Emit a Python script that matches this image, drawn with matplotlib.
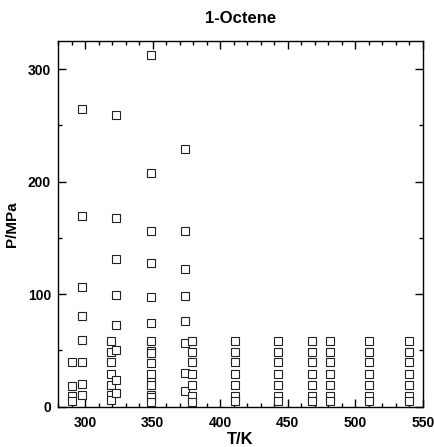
import matplotlib
matplotlib.use("Agg")
import matplotlib.pyplot as plt
from matplotlib.ticker import MultipleLocator

plt.rcParams['font.family'] = ['Liberation Sans', 'DejaVu Sans']

# Temperatures (K) and pressures (MPa) per isotherm
T_290 = [39.8, 18.5, 9.6, 5.2]
T_298 = [264.4, 169.3, 106.0, 80.4, 59.1, 39.8, 19.7, 10.2]
T_319 = [58.2, 48.7, 39.3, 28.6, 18.8, 10.0, 5.8]
T_323 = [259.1, 167.6, 131.0, 99.1, 72.4, 50.0, 23.6, 11.7]
T_349 = [312.4, 207.8, 156.3, 127.3, 97.6, 74.0, 58.2, 49.3, 47.3, 38.9, 28.6, 22.0, 19.1, 10.2, 8.2, 3.7]
T_374 = [228.9, 156.3, 122.0, 98.5, 76.3, 56.2, 29.5, 13.8]
T_379 = [58.2, 48.7, 39.3, 28.6, 18.8, 9.3, 4.3]
T_high = [58.2, 48.7, 39.3, 29.2, 19.5, 9.5, 4.5]

temps = [290, 298, 319, 323, 349, 374, 379, 411, 443, 468, 481, 510, 540]
pressures = [T_290, T_298, T_319, T_323, T_349, T_374, T_379,
             T_high, T_high, T_high, T_high, T_high, T_high]

fig = plt.figure(figsize=(4.35, 4.47), dpi=100)
ax = fig.add_axes([58/435, 1-406.5/447, (423-58)/435, (406.5-41)/447])

xs, ys = [], []
for t, ps in zip(temps, pressures):
    for p in ps:
        xs.append(t)
        ys.append(p)
ax.plot(xs, ys, linestyle='none', marker='s', markersize=5.5,
        markerfacecolor='white', markeredgecolor='#222222', markeredgewidth=0.8)

ax.set_xlim(280, 550)
ax.set_ylim(0, 325)
ax.xaxis.set_major_locator(MultipleLocator(50))
ax.xaxis.set_minor_locator(MultipleLocator(10))
ax.yaxis.set_major_locator(MultipleLocator(100))
ax.yaxis.set_minor_locator(MultipleLocator(50))
ax.tick_params(which='both', direction='in', top=True, right=True, width=1.0)
ax.tick_params(which='major', length=6, labelsize=10)
ax.tick_params(axis='x', which='major', pad=7)
ax.tick_params(axis='y', which='major', pad=5)
ax.tick_params(which='minor', length=3)
for lab in ax.get_xticklabels() + ax.get_yticklabels():
    lab.set_fontweight('bold')
for s in ax.spines.values():
    s.set_linewidth(1.0)

ax.set_xlabel('T/K', fontsize=12, fontweight='bold', labelpad=1)
ax.set_ylabel('P/MPa', fontsize=11, fontweight='bold', labelpad=6)
ax.set_title('1-Octene', fontsize=12, fontweight='bold', pad=13)

fig.savefig('out.png', dpi=100)
